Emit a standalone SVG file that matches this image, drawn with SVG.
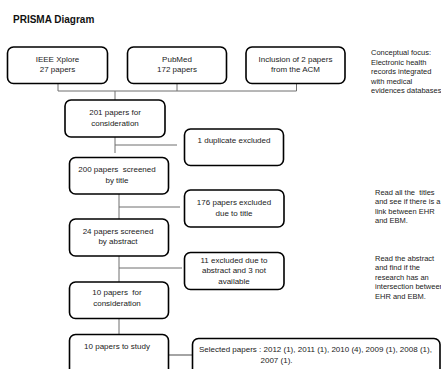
<svg xmlns="http://www.w3.org/2000/svg" width="441" height="369" viewBox="0 0 441 369">
<style>
.box{fill:#fff;stroke:#000;stroke-width:1.6}
.t{font-family:"Liberation Sans",Arial,sans-serif;font-size:8px;fill:#222;text-anchor:middle}
.s{font-family:"Liberation Sans",Arial,sans-serif;font-size:7.5px;fill:#222}
.c{stroke:#6e6e6e;stroke-width:1;fill:none}
</style>
<rect width="441" height="369" fill="#fff"/>
<text x="13" y="23" style="font-family:'Liberation Sans',Arial,sans-serif;font-size:10px;font-weight:bold;fill:#111">PRISMA Diagram</text>
<g id="connectors">
<path class="c" d="M58 83V91M177 84V91M296.5 84V91M58 91H296.5M115 91V100"/>
<path class="c" d="M115 137V153M115 145H177"/>
<path class="c" d="M119 194V219M119 207H180"/>
<path class="c" d="M119 256V282M119 268H182"/>
<path class="c" d="M119 318V334"/>
<path d="M168 355H193" stroke="#9a9a9a" stroke-width="1.8" fill="none"/>
</g>
<g id="ieee"><rect class="box" x="7.5" y="47" width="100" height="36.5" rx="6"/><text class="t" x="57.5" y="61.5">IEEE Xplore</text><text class="t" x="57.5" y="72">27 papers</text></g>
<g id="pubmed"><rect class="box" x="127.5" y="47" width="99" height="36.5" rx="6"/><text class="t" x="177" y="61.5">PubMed</text><text class="t" x="177" y="72">172 papers</text></g>
<g id="acm"><rect class="box" x="246" y="47" width="99" height="36.5" rx="6"/><text class="t" x="295.5" y="61.5">Inclusion of 2 papers</text><text class="t" x="295.5" y="72">from the ACM</text></g>
<g id="note1"><text class="s" x="371" y="55">Conceptual focus:</text><text class="s" x="371" y="64.5">Electronic health</text><text class="s" x="371" y="74">records integrated</text><text class="s" x="371" y="83.5">with medical</text><text class="s" x="371" y="93">evidences databases</text></g>
<g id="n201"><rect class="box" x="65" y="100" width="100" height="37" rx="6"/><text class="t" x="115" y="115">201 papers for</text><text class="t" x="115" y="125.5">consideration</text></g>
<g id="dup"><rect class="box" x="184.5" y="129" width="99" height="36.5" rx="6"/><text class="t" x="234" y="142.5">1 duplicate excluded</text></g>
<g id="n200"><rect class="box" x="69.5" y="157.5" width="99" height="36.5" rx="6"/><text class="t" x="117" y="172" xml:space="preserve">200 papers  screened</text><text class="t" x="117" y="182.5">by title</text></g>
<g id="ex176"><rect class="box" x="184.5" y="190" width="99.5" height="37" rx="6"/><text class="t" x="234" y="205">176 papers excluded</text><text class="t" x="234" y="215.5">due to title</text></g>
<g id="note2"><text class="s" x="375" y="194.5" xml:space="preserve">Read all the  titles</text><text class="s" x="375" y="204">and see if there is a</text><text class="s" x="375" y="213.5">link between EHR</text><text class="s" x="375" y="223">and EBM.</text></g>
<g id="n24"><rect class="box" x="69.5" y="219" width="99" height="37" rx="6"/><text class="t" x="118" y="233.5">24 papers screened</text><text class="t" x="118" y="244">by abstract</text></g>
<g id="ex11"><rect class="box" x="184.5" y="252.5" width="99.5" height="37" rx="6"/><text class="t" x="234" y="262.5">11 excluded due to</text><text class="t" x="234" y="273">abstract and 3 not</text><text class="t" x="234" y="283.5">available</text></g>
<g id="note3"><text class="s" x="375" y="260.5">Read the abstract</text><text class="s" x="375" y="270">and find if the</text><text class="s" x="375" y="279.5">research has an</text><text class="s" x="375" y="289">intersection between</text><text class="s" x="375" y="298.5">EHR and EBM.</text></g>
<g id="n10c"><rect class="box" x="69.5" y="282" width="99" height="36.5" rx="6"/><text class="t" x="117" y="295" xml:space="preserve">10 papers  for</text><text class="t" x="117" y="305.5">consideration</text></g>
<g id="n10s"><rect class="box" x="69.5" y="334.5" width="99" height="45" rx="6"/><text class="t" x="117" y="348.5">10 papers to study</text></g>
<g id="selected"><rect class="box" x="192.5" y="338.5" width="247.5" height="45" rx="6"/><text class="s" x="199" y="352" style="font-size:8px">Selected papers : 2012 (1), 2011 (1), 2010 (4), 2009 (1), 2008 (1),</text><text class="s" x="260.5" y="362.5" style="font-size:8px">2007 (1).</text></g>
</svg>
